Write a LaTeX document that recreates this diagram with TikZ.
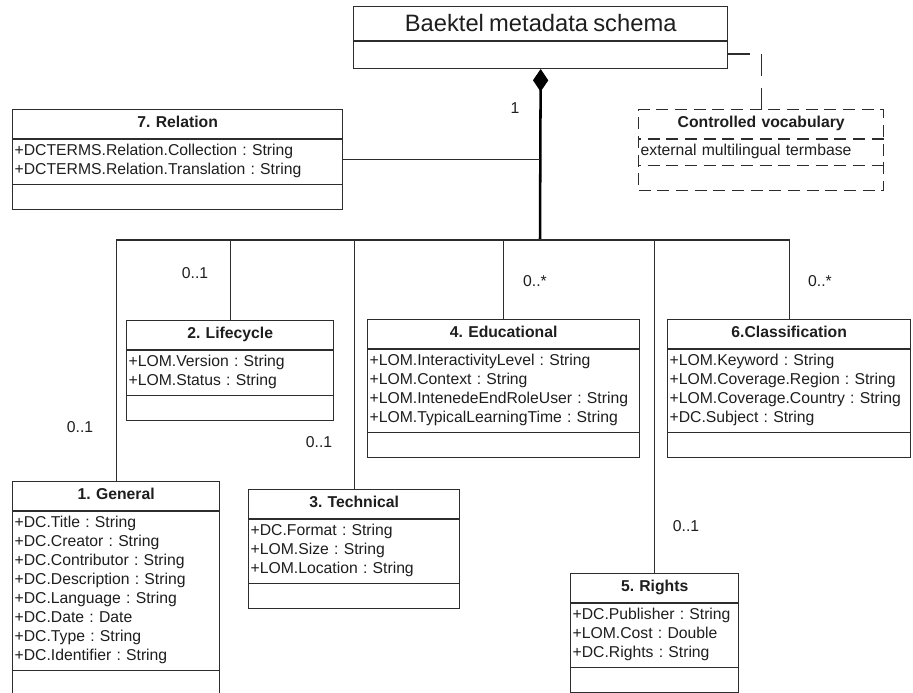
\documentclass[tikz,border=0pt]{standalone}
\usepackage{fontspec}
\setmainfont{Liberation Sans}
\usepackage{tikz}
\usetikzlibrary{arrows.meta,calc,shapes.multipart}
\definecolor{cline}{RGB}{45,45,45}
\definecolor{ctext}{RGB}{30,30,30}
\frenchspacing

\newcommand{\titlestrut}{\rule[-6pt]{0pt}{16.5pt}}
\newcommand{\opsstrut}{\rule[-4pt]{0pt}{13.5pt}}
\newcommand{\classtitle}[1]{\makebox[\hsize]{\titlestrut\textbf{#1}}}

\begin{document}
\begin{tikzpicture}[
    x=0.75pt, y=-0.75pt,
    umlclass/.style={
        rectangle split,
        rectangle split parts=3,
        draw=cline,
        line width=1pt,
        anchor=north west,
        text width=#1,
        inner xsep=1.5pt,
        inner ysep=2.25pt,
        align=left,
        text=ctext,
        font=\fontsize{11.8pt}{14.25pt}\selectfont
    },
    vocabclass/.style={
        umlclass=#1,
        dash pattern=on 9pt off 5pt
    },
    mult/.style={
        inner sep=0pt,
        text=ctext,
        font=\fontsize{11.8pt}{14pt}\selectfont
    },
    assoc/.style={
        line width=1pt,
        draw=cline
    },
    trunk/.style={
        line width=1.9pt,
        draw=black
    },
    depline/.style={
        line width=1pt,
        draw=cline,
        dash pattern=on 16pt off 9pt
    }
]

\path[use as bounding box, fill=white] (0,0) rectangle (913,692);

% Top: the schema itself
\node[umlclass=277.5pt, rectangle split parts=2] (schema) at (353,6) {
    \makebox[\hsize]{\rule[-4.5pt]{0pt}{20.25pt}\fontsize{17.8pt}{20pt}\selectfont Baektel metadata schema}
    \nodepart{second}\rule[-4pt]{0pt}{15pt}
};

\node[vocabclass=180.75pt] (vocab) at (638,109) {
    \classtitle{Controlled vocabulary}
    \nodepart{second}\strut external multilingual termbase
    \nodepart{third}\opsstrut
};

\node[umlclass=244.5pt] (relation) at (12,109) {
    \classtitle{7. Relation}
    \nodepart{second}\strut+DCTERMS.Relation.Collection : String\\
    \strut+DCTERMS.Relation.Translation : String
    \nodepart{third}\opsstrut
};

% Row 1: Lifecycle, Educational, Classification
\node[umlclass=152.25pt] (lifecycle) at (126,320) {
    \classtitle{2. Lifecycle}
    \nodepart{second}\strut+LOM.Version : String\\
    \strut+LOM.Status : String
    \nodepart{third}\opsstrut
};

\node[umlclass=201pt] (educational) at (367,319) {
    \classtitle{4. Educational}
    \nodepart{second}\strut+LOM.InteractivityLevel : String\\
    \strut+LOM.Context : String\\
    \strut+LOM.IntenedeEndRoleUser : String\\
    \strut+LOM.TypicalLearningTime : String
    \nodepart{third}\opsstrut
};

\node[umlclass=179.25pt] (classification) at (667,319) {
    \classtitle{6.Classification}
    \nodepart{second}\strut+LOM.Keyword : String\\
    \strut+LOM.Coverage.Region : String\\
    \strut+LOM.Coverage.Country : String\\
    \strut+DC.Subject : String
    \nodepart{third}\opsstrut
};

% Row 2: General, Technical, Rights
\node[umlclass=152.25pt] (general) at (12,481) {
    \classtitle{1. General}
    \nodepart{second}\strut+DC.Title : String\\
    \strut+DC.Creator : String\\
    \strut+DC.Contributor : String\\
    \strut+DC.Description : String\\
    \strut+DC.Language : String\\
    \strut+DC.Date : Date\\
    \strut+DC.Type : String\\
    \strut+DC.Identifier : String
    \nodepart{third}\opsstrut
};

\node[umlclass=155.25pt] (technical) at (248,489) {
    \classtitle{3. Technical}
    \nodepart{second}\strut+DC.Format : String\\
    \strut+LOM.Size : String\\
    \strut+LOM.Location : String
    \nodepart{third}\opsstrut
};

\node[umlclass=123pt] (rights) at (570,573) {
    \classtitle{5. Rights}
    \nodepart{second}\strut+DC.Publisher : String\\
    \strut+LOM.Cost : Double\\
    \strut+DC.Rights : String
    \nodepart{third}\opsstrut
};

% Composition trunk and bus
\coordinate (bus) at (540,240);
\draw[trunk, {Diamond[length=17pt,width=11.5pt]}-] (schema.south) -- (bus);
\draw[assoc] (relation.east) -- (relation.east -| bus);
\draw[assoc] (general.north) |- (bus);
\draw[assoc] (lifecycle.north) |- (bus);
\draw[assoc] (technical.north) |- (bus);
\draw[assoc] (educational.north) |- (bus);
\draw[assoc] (rights.north) |- (bus);
\draw[assoc] (classification.north) |- (bus);

% Schema -> vocabulary (dependency)
\draw[depline] ([yshift=11.25pt]schema.south east) -| (vocab.north);

% Multiplicities
\node[mult] (m-top) at (515,108) {1};
\node[mult] (m-life) at (195,273) {0..1};
\node[mult] (m-edu) at (535,281) {0..*};
\node[mult] (m-class) at (820,281) {0..*};
\node[mult] (m-gen) at (80,427) {0..1};
\node[mult] (m-tech) at (319,442) {0..1};
\node[mult] (m-rights) at (686,526) {0..1};

\end{tikzpicture}
\end{document}
